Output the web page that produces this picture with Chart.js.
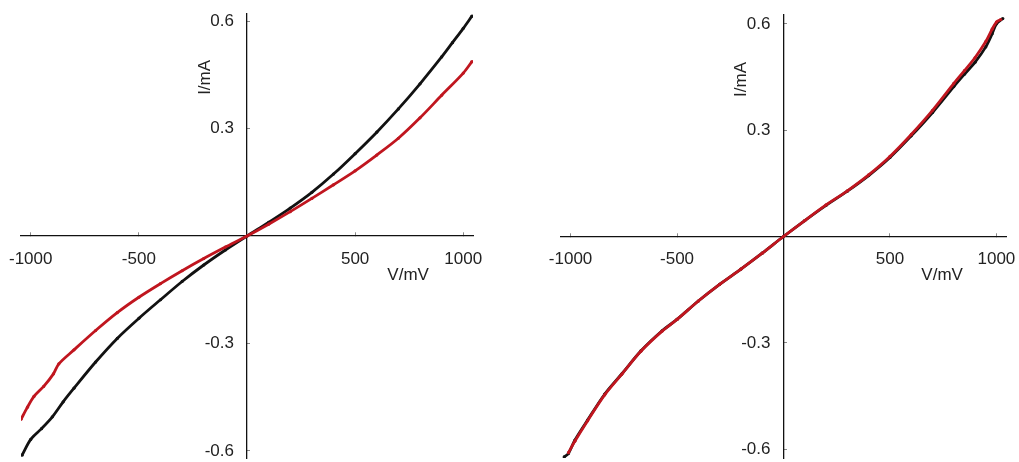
<!DOCTYPE html>
<html lang="en">
<head>
<meta charset="UTF-8">
<script src="https://cdn.jsdelivr.net/npm/chart.js"></script>
<style>
    body { margin: 0; background: #fff; }
    .panel { position: absolute; top: 0; }
</style>
</head>
<body>
<div class="panel" style="left:0px"><canvas id="left" width="500" height="462"></canvas></div>
<div class="panel" style="left:519px"><canvas id="right" width="500" height="462"></canvas></div>
<script>
// tick values
const xTicks = [-1000, -500, 500, 1000];
const yTicks = [-0.6, -0.3, 0.3, 0.6];
const xTitle = 'V/mV';
const yTitle = 'I/mA';

// left panel - black series (V in mV, I in mA)
const leftBlackV = [-1040, -1000, -950, -900, -850, -800, -700, -600, -500, -400, -300, -200, -100, 0, 100, 200, 300, 400, 500, 600, 700, 800, 900, 950, 1000, 1040];
const leftBlackI = [-0.612, -0.568, -0.538, -0.505, -0.463, -0.425, -0.352, -0.286, -0.230, -0.178, -0.127, -0.081, -0.039, 0, 0.038, 0.078, 0.122, 0.173, 0.230, 0.290, 0.355, 0.425, 0.500, 0.540, 0.580, 0.614];
// left panel - red series
const leftRedV = [-1045, -1015, -985, -940, -895, -870, -800, -700, -600, -500, -400, -300, -200, -100, 0, 100, 200, 300, 400, 500, 600, 700, 800, 900, 1000, 1040];
const leftRedI = [-0.512, -0.478, -0.448, -0.420, -0.385, -0.357, -0.318, -0.264, -0.214, -0.171, -0.133, -0.097, -0.063, -0.031, 0, 0.033, 0.068, 0.105, 0.143, 0.182, 0.226, 0.273, 0.330, 0.393, 0.455, 0.487];

// right panel - black series
const rightBlackV = [-1030, -1010, -980, -920, -840, -760, -670, -570, -500, -400, -300, -200, -100, 0, 100, 200, 300, 400, 500, 600, 700, 800, 850, 900, 950, 980, 1000, 1030];
const rightBlackI = [-0.622, -0.612, -0.575, -0.518, -0.445, -0.388, -0.323, -0.266, -0.234, -0.182, -0.135, -0.092, -0.047, 0, 0.045, 0.088, 0.128, 0.172, 0.223, 0.284, 0.350, 0.423, 0.458, 0.492, 0.535, 0.572, 0.600, 0.615];
// right panel - red series
const rightRedV = [-1010, -980, -920, -840, -760, -670, -570, -500, -400, -300, -200, -100, 0, 100, 200, 300, 400, 500, 600, 700, 800, 850, 900, 950, 980, 1000, 1020];
const rightRedI = [-0.610, -0.578, -0.520, -0.447, -0.389, -0.324, -0.267, -0.234, -0.182, -0.135, -0.092, -0.047, 0, 0.045, 0.089, 0.129, 0.174, 0.226, 0.288, 0.356, 0.432, 0.468, 0.505, 0.550, 0.585, 0.605, 0.612];

const textColor = '#222';
const fontFamily = '"Liberation Sans", Arial, sans-serif';
const black = '#121212';
const red = '#c0161f';

function pts(vs, is) {
    return vs.map((v, i) => ({ x: v, y: is[i] }));
}

// axis titles drawn next to the crossing axes
const axisTitles = {
    id: 'axisTitles',
    afterDraw(chart) {
        const { ctx, scales: { x, y } } = chart;
        const x0 = x.getPixelForValue(0);
        const y0 = y.getPixelForValue(0);
        ctx.save();
        ctx.fillStyle = textColor;
        ctx.font = '17px ' + fontFamily;
        ctx.textAlign = 'center';
        ctx.textBaseline = 'middle';
        ctx.fillText(xTitle, x.getPixelForValue(745), y0 + 39);
        ctx.translate(x0 - 42, y.getPixelForValue(0.443));
        ctx.rotate(-Math.PI / 2);
        ctx.fillText(yTitle, 0, 0);
        ctx.restore();
    }
};

// chart.js puts y labels of an axis placed at {x: 0} right on the line, push them left a bit
const yLabelGap = {
    id: 'yLabelGap',
    beforeDraw(chart) {
        chart.scales.y.getLabelItems().forEach(item => {
            if (!item._moved) {
                item.options.translation[0] -= 13;
                item._moved = true;
            }
        });
    }
};

function noEdgePadding(s) {
    s.paddingLeft = 0;
    s.paddingRight = 0;
    s.paddingTop = 0;
    s.paddingBottom = 0;
}

function makePanel(id, blackData, redData, pad, yLim) {
    const series = (data, color, order) => ({
        data: data,
        showLine: true,
        borderColor: color,
        backgroundColor: color,
        borderWidth: 2.8,
        pointRadius: 1.6,
        pointBorderWidth: 0,
        tension: 0.3,
        order: order
    });
    return new Chart(document.getElementById(id), {
        type: 'scatter',
        data: {
            datasets: [series(blackData, black, 1), series(redData, red, 0)]
        },
        options: {
            responsive: false,
            animation: false,
            events: [],
            layout: { padding: pad },
            plugins: { legend: { display: false }, tooltip: { enabled: false } },
            scales: {
                x: {
                    type: 'linear',
                    min: -1045,
                    max: 1045,
                    position: { y: 0 },
                    afterBuildTicks: s => { s.ticks = xTicks.map(v => ({ value: v })); },
                    afterFit: noEdgePadding,
                    grid: { drawOnChartArea: false, tickLength: -4, tickColor: '#888', tickWidth: 1 },
                    border: { color: '#111', width: 1.3 },
                    ticks: { padding: 17, color: textColor, font: { size: 17, family: fontFamily }, autoSkip: false, maxRotation: 0, callback: v => String(v) }
                },
                y: {
                    type: 'linear',
                    min: -yLim,
                    max: yLim,
                    position: { x: 0 },
                    afterBuildTicks: s => { s.ticks = yTicks.map(v => ({ value: v })); },
                    afterFit: noEdgePadding,
                    grid: { drawOnChartArea: false, tickLength: -4, tickColor: '#888', tickWidth: 1 },
                    border: { color: '#111', width: 1.3 },
                    ticks: { padding: 0, color: textColor, font: { size: 17, family: fontFamily }, autoSkip: false, callback: v => String(v) }
                }
            }
        },
        plugins: [axisTitles, yLabelGap]
    });
}

makePanel('left', pts(leftBlackV, leftBlackI), pts(leftRedV, leftRedI), { left: 21, right: 27, top: 14, bottom: 0 }, 0.62);
makePanel('right', pts(rightBlackV, rightBlackI), pts(rightRedV, rightRedI), { left: 42, right: 13, top: 15, bottom: 1 }, 0.625);
</script>
</body>
</html>
